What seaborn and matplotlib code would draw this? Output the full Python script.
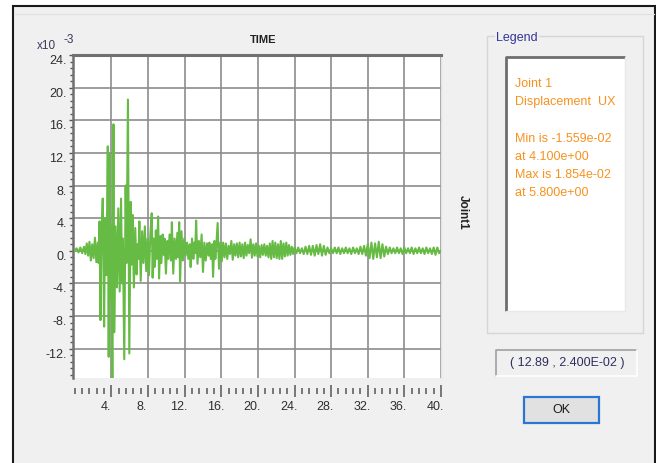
import numpy as np
import matplotlib
matplotlib.use('Agg')
import matplotlib.pyplot as plt
import matplotlib.transforms as mtransforms
from matplotlib.patches import Rectangle
from matplotlib.ticker import MultipleLocator
import seaborn as sns

# joint 1 displacement UX (x10^-3) vs time (s), peaks
time = [0.0, 0.2, 0.4, 0.6, 0.8, 1.0, 1.15, 1.3, 1.45, 1.6, 1.75, 1.9, 2.05, 2.2, 2.35, 2.5,
        2.6, 2.7, 2.8, 2.9, 3.05, 3.2, 3.3, 3.45, 3.6, 3.7, 3.8, 3.9, 3.98, 4.1, 4.22, 4.3, 4.45, 4.6, 4.75, 4.9,
        5.05, 5.15, 5.25, 5.4, 5.55, 5.65, 5.8, 5.95, 6.1, 6.2, 6.3, 6.45, 6.6, 6.75, 6.85, 6.95, 7.05, 7.2, 7.35,
        7.5, 7.65, 7.8, 7.95, 8.1, 8.25,
        8.4, 8.5, 8.6, 8.7, 8.85, 8.95, 9.1, 9.2, 9.35, 9.45, 9.6, 9.7, 9.8, 9.95, 10.1, 10.2, 10.35,
        10.5, 10.6, 10.75, 10.9, 11.05, 11.2, 11.3, 11.4, 11.5, 11.65, 11.8, 11.95, 12.1, 12.25, 12.4, 12.55,
        12.65, 12.8, 12.95, 13.05, 13.15, 13.25, 13.4, 13.55, 13.7, 13.85, 14.0, 14.15, 14.3, 14.45, 14.6, 14.7,
        14.85, 15.0, 15.1, 15.25, 15.35, 15.45, 15.6, 15.75, 15.9, 16.05, 16.2, 16.35, 16.5, 16.65, 16.8, 16.95,
        17.1, 17.25, 17.4, 17.55, 17.7, 17.85, 18.0, 18.15, 18.3, 18.45,
        18.6, 18.75, 18.9, 19.05, 19.2, 19.35, 19.5, 19.65, 19.8, 19.95,
        20.1, 20.25, 20.4, 20.55, 20.7, 20.85, 21.0, 21.15, 21.3, 21.45,
        21.6, 21.75, 21.9, 22.05, 22.2, 22.35, 22.5, 22.65, 22.8, 22.95,
        23.1, 23.25, 23.4, 23.55, 23.7, 23.85,
        24.0, 24.2, 24.4, 24.6, 24.8, 25.0, 25.2, 25.4, 25.6, 25.8,
        26.0, 26.2, 26.4, 26.6, 26.8, 27.0, 27.2, 27.4, 27.6, 27.8,
        28.0, 28.2, 28.4, 28.6, 28.8, 29.0, 29.2, 29.4, 29.6, 29.8,
        30.0, 30.2, 30.4, 30.6, 30.8, 31.0, 31.2, 31.4, 31.6, 31.8,
        32.0, 32.2, 32.4, 32.6, 32.8, 33.0, 33.2, 33.4, 33.6, 33.8,
        34.0, 34.2, 34.4, 34.6, 34.8, 35.0, 35.2, 35.4, 35.6, 35.8,
        36.0, 36.2, 36.4, 36.6, 36.8, 37.0, 37.2, 37.4, 37.6, 37.8,
        38.0, 38.2, 38.4, 38.6, 38.8, 39.0, 39.2, 39.4, 39.6, 39.8,
        40.0]
disp = [0.0, 0.3, -0.2, 0.4, -0.3, 0.5, -0.4, 0.9, -0.6, 1.1, -1.2, 0.8, -0.9, 1.6, -1.4, 1.0,
        -1.5, 3.6, -8.5, 1.5, 6.4, -9.3, 4.0, -3.0, 12.8, -13.0, 11.9, -6.0, 3.0, -15.59, 15.5, -10.0, 3.0, -4.5, 5.2, -5.0,
        6.4, -4.0, 1.5, -13.3, 8.0, -1.5, 18.54, -12.6, 6.0, -1.7, 4.4, -4.5, 2.8, -2.9, 0.8, -1.0, 3.6, -3.7, 2.4,
        -1.5, 3.0, -2.5, 1.5, -3.0, 2.0,
        4.6, -3.3, 1.5, -2.0, 2.5, -1.0, 4.2, -3.4, 1.8, -1.5, 2.0, -0.5, 1.5, -2.8, 1.2, -1.0, 2.0,
        -1.2, 3.5, -2.8, 1.5, -1.0, 2.2, -0.8, 3.5, -3.8, 2.4, -1.2, 1.5, -0.6, 1.0, -1.0, 0.8,
        -2.0, 1.5, -1.0, 1.0, -0.3, 3.7, -1.6, 1.2, -0.8, 2.0, -2.6, 1.0, -1.2, 0.9, -0.6, 1.0,
        -1.0, 0.8, -3.2, 1.2, -1.0, 0.5, 3.4, -2.2, 1.0, -1.3, 1.0, -0.8, 0.9, -1.0, 0.6, -0.4,
        1.2, -1.1, 0.8, -0.6, 0.9, -0.8, 1.0, -0.7, 0.8, -0.9,
        1.0, -0.6, 0.7, -0.3, 1.4, -0.85, 0.8, -0.6, 0.9, -0.7,
        0.6, -0.8, 0.7, -0.5, 0.8, -0.6, 0.6, -0.8, 0.9, -1.0,
        1.2, -0.8, 1.0, -0.9, 0.8, -1.0, 1.2, -1.0, 0.9, -0.7,
        1.0, -0.6, 0.7, -0.5, 0.5, -0.4,
        0.4, -0.3, 0.4, -0.3, 0.3, -0.4, 0.5, -0.4, 0.6, -0.5,
        0.6, -0.6, 0.7, -0.4, 0.8, -0.6, 0.6, -0.5, 0.4, -0.3,
        0.3, -0.3, 0.4, -0.3, 0.4, -0.4, 0.3, -0.3, 0.4, -0.3,
        0.3, -0.4, 0.4, -0.3, 0.3, -0.4, 0.5, -0.4, 0.6, -0.6,
        0.8, -0.9, 1.0, -1.0, 0.9, -0.8, 1.1, -0.9, 0.8, -0.7,
        0.5, -0.4, 0.4, -0.3, 0.3, -0.3, 0.4, -0.3, 0.3, -0.4,
        0.4, -0.3, 0.3, -0.3, 0.4, -0.4, 0.3, -0.3, 0.4, -0.3,
        0.3, -0.4, 0.4, -0.3, 0.3, -0.4, 0.4, -0.5, 0.4, -0.3,
        0.0]
assert len(time) == len(disp)

x_ticks = [4, 8, 12, 16, 20, 24, 28, 32, 36, 40]
y_ticks = [-12, -8, -4, 0, 4, 8, 12, 16, 20, 24]
legend_lines = ["Joint 1", "Displacement  UX", "", "Min is -1.559e-02", "at 4.100e+00",
                "Max is 1.854e-02", "at 5.800e+00"]
cursor_text = "( 12.89 , 2.400E-02 )"

sns.set_theme(style='white')
plt.rcParams['font.family'] = ['Liberation Sans', 'DejaVu Sans']

W, H = 656, 463
fig = plt.figure(figsize=(W / 100, H / 100), dpi=100, facecolor='white')

# dialog background, drawn in pixel coords
bg = fig.add_axes([0, 0, 1, 1], zorder=-1)
bg.set_xlim(0, W)
bg.set_ylim(H, 0)
bg.axis('off')
bg.add_patch(Rectangle((13, 6), 642, 470, facecolor='#f0f0f0', edgecolor='#1a1a1a', lw=1.5))
bg.plot([14, 654], [14, 14], color='#e2e2e2', lw=1)

# legend group box
bg.add_patch(Rectangle((487, 36), 156, 297, facecolor='none', edgecolor='#d6d6d6', lw=1))
bg.text(496, 38, "Legend", color='#34349a', fontsize=9, va='center', ha='left',
        bbox=dict(facecolor='#f0f0f0', edgecolor='none', pad=1))
bg.add_patch(Rectangle((506, 57), 119, 254, facecolor='white', edgecolor='none'))
bg.plot([506, 506, 625], [311, 57, 57], color='#6e6e6e', lw=2, solid_capstyle='butt')
bg.plot([506, 625, 625], [311, 311, 57], color='#e8e8e8', lw=1)
for i, line in enumerate(legend_lines):
    bg.text(515, 84 + i * 18.2, line, color='#f7921e', fontsize=9, va='center', ha='left')

# cursor readout box
bg.add_patch(Rectangle((496, 350), 141, 26, facecolor='#f0f0f0', edgecolor='none'))
bg.plot([496, 496, 637], [376, 350, 350], color='#a0a0a0', lw=1.2)
bg.plot([496, 637, 637], [376, 376, 350], color='#ffffff', lw=1.2)
bg.text(567, 363, cursor_text, color='#2e2e5e', fontsize=9, va='center', ha='center')

# OK button
bg.add_patch(Rectangle((524, 397), 75, 26, facecolor='#e1e1e1', edgecolor='#2a76d2', lw=1.6))
bg.text(561, 410, "OK", color='#1a1a1a', fontsize=9, va='center', ha='center')

# plot titles
bg.text(263, 40, "TIME", color='#222222', fontsize=8, fontweight='bold', va='center', ha='center')
bg.text(37, 46, "x10", color='#3a3a5a', fontsize=8.5, va='center', ha='left')
bg.text(64, 40, "-3", color='#3a3a5a', fontsize=8.5, va='center', ha='left')
bg.text(463, 212, "Joint1", color='#222222', fontsize=8.5, fontweight='bold',
        rotation=-90, va='center', ha='center')

# main plot
left, right, top, bottom = 73, 441, 55, 378
ax = fig.add_axes([left / W, 1 - bottom / H, (right - left) / W, (bottom - top) / H])
ax.set_facecolor('white')
sns.lineplot(x=time, y=disp, ax=ax, color='#66bb44', lw=1.5, estimator=None, sort=False, zorder=3)
ax.set_xlim(-0.2, 40)
ax.set_ylim(-15.6, 24)

ax.set_xticks(x_ticks, [f"{v}." for v in x_ticks])
ax.set_yticks(y_ticks, [f"{v}." for v in y_ticks])
ax.xaxis.set_minor_locator(MultipleLocator(0.8))
ax.yaxis.set_minor_locator(MultipleLocator(0.8))
ax.grid(True, which='major', color='#8c8c8c', lw=1.2)
ax.set_xlabel('')
ax.set_ylabel('')

for side in ['right', 'bottom']:
    ax.spines[side].set_color('#e4e4e4')
    ax.spines[side].set_linewidth(1)
ax.spines['top'].set_color('#707070')
ax.spines['top'].set_linewidth(2.2)
ax.spines['left'].set_color('#707070')
ax.spines['left'].set_linewidth(1.8)
ax.spines['bottom'].set_position(('outward', 9.5))
ax.spines['bottom'].set_visible(False)

ax.tick_params(axis='x', which='both', bottom=True, direction='inout', color='#555555', width=1.1)
ax.tick_params(axis='x', which='major', length=8, pad=3, labelsize=9, labelcolor='#2e2e2e')
ax.tick_params(axis='x', which='minor', length=4.3)
ax.tick_params(axis='y', which='both', left=True, direction='out', color='#555555', width=1)
ax.tick_params(axis='y', which='major', length=3, pad=1.5, labelsize=9, labelcolor='#2e2e2e')
ax.tick_params(axis='y', which='minor', length=2.2)

shift_x = mtransforms.ScaledTranslation(-6 / 100, 0, fig.dpi_scale_trans)
for lab in ax.get_xticklabels():
    lab.set_transform(lab.get_transform() + shift_x)
for lab in ax.get_yticklabels():
    lab.set_verticalalignment('top')

fig.savefig('out.png', dpi=100)
